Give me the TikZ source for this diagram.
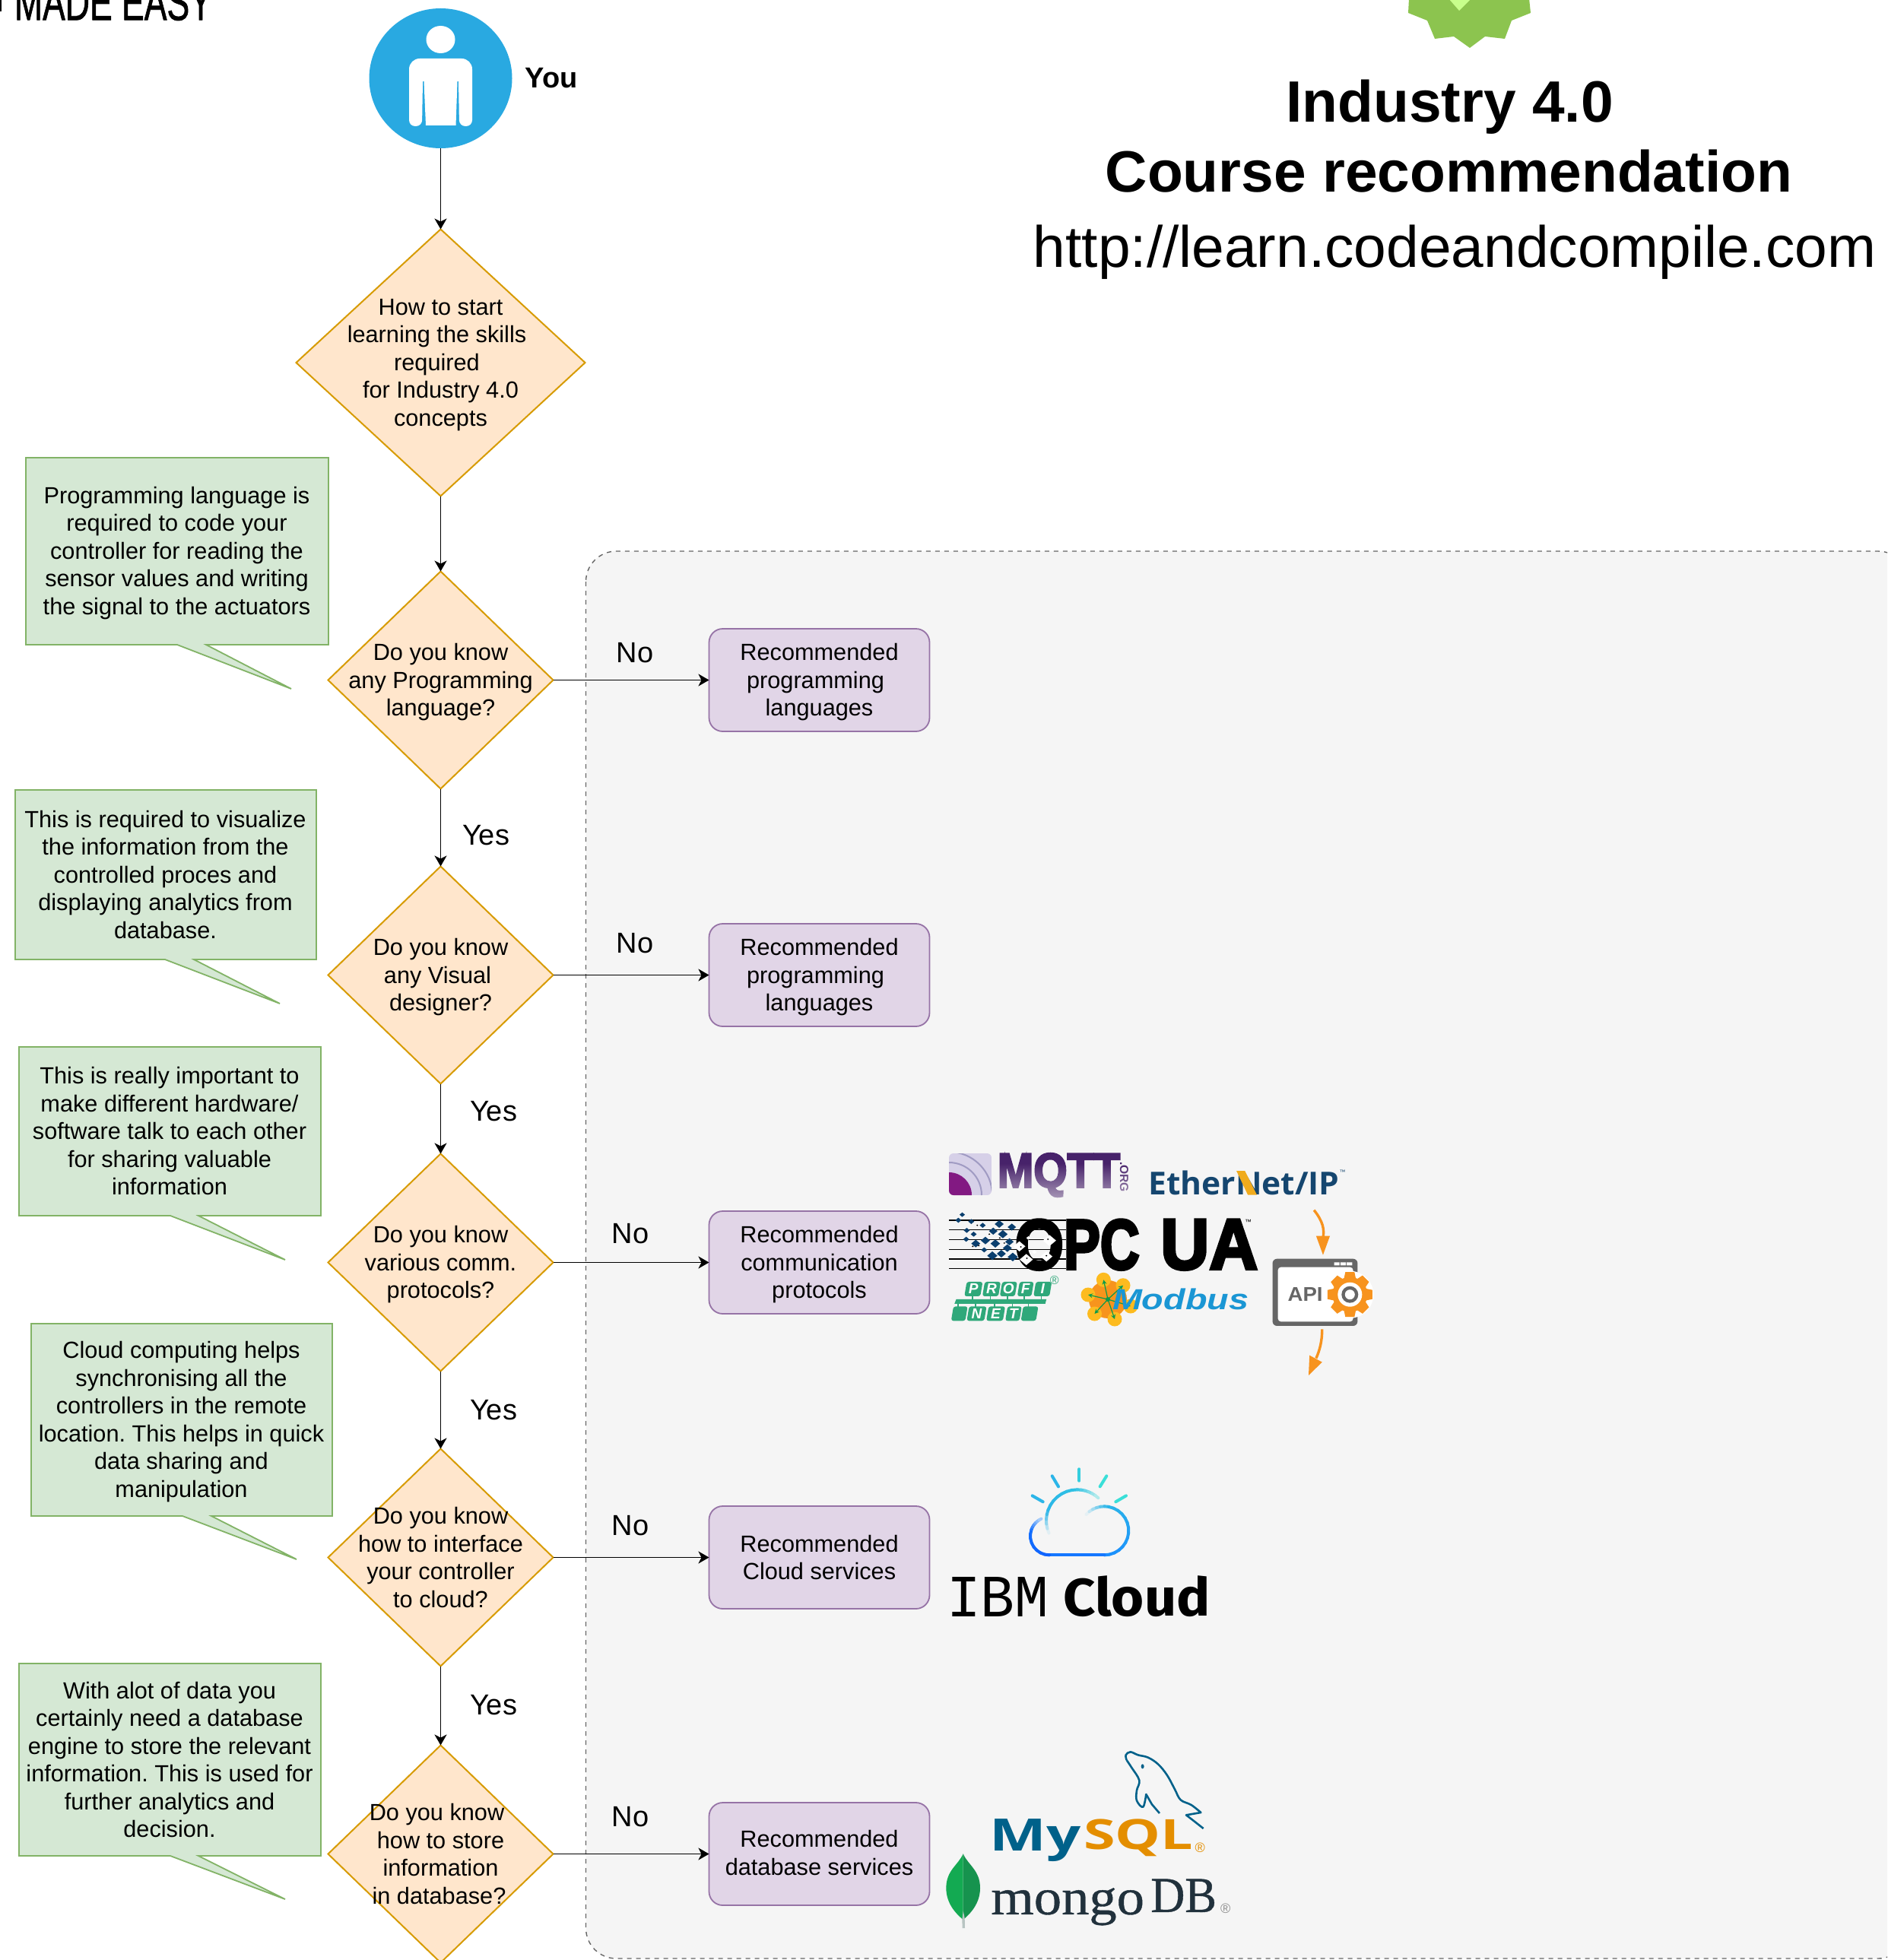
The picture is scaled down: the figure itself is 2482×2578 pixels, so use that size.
\documentclass[tikz,border=0pt]{standalone}
\usepackage{fontspec}
\usepackage{graphicx}
\setmainfont{Liberation Sans}
\newfontfamily\opensans{Open Sans}
\newfontfamily\firaf{Fira Sans}
\newfontfamily\lmonof{Liberation Mono}
\newfontfamily\lseriff{Liberation Serif}[UprightFeatures={FakeBold=.6}]
\newfontfamily\heavyf[UprightFont=* Bold,UprightFeatures={FakeBold=4}]{Liberation Sans}
\newfontfamily\semiheavy[UprightFont=* Bold,UprightFeatures={FakeBold=1.5}]{Liberation Sans}
\newfontfamily\handf[UprightFeatures={FakeBold=1.2}]{Liberation Sans}
\AtBeginDocument{\frenchspacing}
\usetikzlibrary{shapes.geometric,arrows.meta,fadings,calc}
\definecolor{dfill}{HTML}{FFE6CC}\definecolor{dline}{HTML}{D79B00}
\definecolor{gfill}{HTML}{D5E8D4}\definecolor{gline}{HTML}{82B366}
\definecolor{pfill}{HTML}{E1D5E7}\definecolor{pline}{HTML}{9673A6}
\definecolor{panelc}{HTML}{F5F5F5}\definecolor{panell}{HTML}{666666}
\definecolor{youc}{HTML}{29A9E1}
\definecolor{badge}{HTML}{8CC44F}\definecolor{badgel}{HTML}{C8FF8C}
\definecolor{mqttc}{HTML}{47226A}
\definecolor{ethc}{HTML}{15466F}\definecolor{ethy}{HTML}{F0AB1D}
\definecolor{opcb}{HTML}{0B3F6E}
\definecolor{pnc}{HTML}{2FA87A}
\definecolor{mbo}{HTML}{F7941D}\definecolor{mby}{HTML}{FDBB1F}\definecolor{mbg}{HTML}{0A9B4A}\definecolor{mbb}{HTML}{1A96D4}
\definecolor{apig}{HTML}{666666}\definecolor{apio}{HTML}{F7931E}
\definecolor{mysqlb}{HTML}{00618A}\definecolor{mysqlo}{HTML}{E48E00}
\definecolor{mongoc}{HTML}{21313C}
\definecolor{leafa}{HTML}{13AA52}\definecolor{leafb}{HTML}{16934E}
\definecolor{cla}{HTML}{0F62FE}\definecolor{clb}{HTML}{1A8CFF}\definecolor{clc}{HTML}{2BB5E8}\definecolor{cld}{HTML}{3ADFD8}
\tikzset{
 bigdia/.style={diamond,draw=dline,fill=dfill,line width=1pt,inner sep=0pt,outer sep=0pt,minimum width=190pt,minimum height=175.5pt},
 dia/.style={diamond,draw=dline,fill=dfill,line width=1pt,inner sep=0pt,outer sep=0pt,minimum width=148pt,minimum height=143pt},
 txt/.style={align=center,inner sep=0pt,font=\fontsize{15.35}{18.25}\selectfont},
 rec/.style={rectangle,rounded corners=9pt,draw=pline,fill=pfill,line width=.9pt,minimum width=145pt,minimum height=67.5pt,inner sep=0pt,outer sep=0pt},
 notebox/.style={draw=gline,fill=gfill,line width=.9pt},
 conn/.style={draw=black,line width=.9pt,-{Stealth[length=7pt,width=8pt,inset=2pt]}},
 yn/.style={inner sep=0pt,font=\fontsize{19}{21}\selectfont},
 logo/.style={inner sep=0pt,outer sep=0pt},
 titleb/.style={inner sep=0pt,anchor=base,font=\fontsize{38.35}{44}\selectfont\bfseries},
 cloudline/.style={line width=2pt,line cap=round},
}
\newcommand\rz[3]{\resizebox*{#1pt}{#2pt}{#3}}
\newcommand\tr[1]{\rule{#1pt}{0pt}}
\def\ntshift{0}
\newcommand\notecall[9]{%
 \draw[notebox] (#2,#3) -- (#4,#3) -- (#4,#5) -- (#7,#5) -- #8 -- (#6,#5) -- (#2,#5) -- cycle;
 \node[txt] (#1) at ({(#2+#4)/2-0.5},{(#3+#5)/2+\ntshift}) {#9};}
\newcommand\gradarc[8]{%
 \foreach \i in {1,...,#8}{%
  \pgfmathsetmacro\aa{#4+(#5-(#4))*(\i-1)/#8}%
  \pgfmathsetmacro\ab{#4+(#5-(#4))*\i/#8}%
  \pgfmathtruncatemacro\pc{100*(\i-0.5)/#8}%
  \draw[cloudline,color={#7!\pc!#6}] ({#1+#3*cos(\aa)},{#2+#3*sin(\aa)}) -- ({#1+#3*cos(\ab)},{#2+#3*sin(\ab)});}}
\begin{document}
\begin{tikzpicture}[x=0.5pt,y=-0.5pt]
\useasboundingbox (0,0) rectangle (2482,2578);
\clip (0,0) rectangle (2482,2578);
\fill[white] (0,0) rectangle (2482,2578);
% panel
\draw[draw=panell,fill=panelc,dashed,line width=.7pt,rounded corners=20pt] (770.5,725) rectangle (2510,2576);
% top left remnant
\node[logo] (made) at (149,3) {\rz{130}{24}{\handf MADE EASY}};
\fill[black] (0,0) rectangle (2,15);
% badge
\fill[badge] (1853,-2) -- (1852,17) -- (1877,27) -- (1887,51) -- (1912,48) -- (1933,63) -- (1953,48) -- (1979,51) -- (1988,27) -- (2013,17) -- (2011,-2) -- cycle;
\fill[badgel] (1905,-2) -- (1919,14) -- (1935,-2) -- cycle;
% title
\node[titleb] (t1) at (1906.5,161) {Industry 4.0};
\node[titleb] (t2) at (1905.5,253) {Course recommendation};
\node[inner sep=0pt,anchor=base,font=\fontsize{38.35}{44}\selectfont] (t3) at (1913,352) {http://learn.codeandcompile.com};
% person
\node[ellipse,fill=youc,inner sep=0pt,outer sep=0pt,minimum width=94pt,minimum height=92pt] (you) at (579.5,103) {};
\fill[white] (579.5,52) ellipse [x radius=19,y radius=18];
\fill[white,rounded corners=7pt] (538,125) -- (538,77) -- (621,77) -- (621,125) [rounded corners=4pt] -- (621,166) -- (604,166) [sharp corners] -- (603,107) -- (601.5,107) -- (599.5,165) -- (560,165) -- (557.5,107) -- (556,107) [rounded corners=4pt] -- (555,166) -- (538,166) -- cycle;
\node[inner sep=0pt,font=\fontsize{19}{21}\selectfont\bfseries] (youl) at (725,103) {You};
% diamonds
\node[bigdia] (d0) at (579.5,477) {};
\node[txt] (d0t) at ([yshift=-1.5pt]d0.center) {How to start\\learning the skills\tr{5}\\required\tr{5}\\for Industry 4.0\\concepts};
\node[dia] (d1) at (579.5,894.5) {};
\node[txt] (d1t) at ([yshift=-1.5pt]d1.center) {Do you know\\any Programming\\language?};
\node[dia] (d2) at (579.5,1282.5) {};
\node[txt] (d2t) at ([yshift=-1.5pt]d2.center) {Do you know\\any Visual\tr{4}\\designer?};
\node[dia] (d3) at (579.5,1660.5) {};
\node[txt] (d3t) at ([yshift=-1.5pt]d3.center) {Do you know\\various comm.\\protocols?};
\node[dia] (d4) at (579.5,2048.5) {};
\node[txt] (d4t) at (d4.center) {Do you know\\how to interface\\your controller\\to cloud?};
\node[dia] (d5) at (579.5,2438.5) {};
\node[txt] (d5t) at (d5.center) {Do you know\tr{5}\\how to store\\information\\in database?\tr{2}};
% boxes
\node[rec] (b1) at (1077.5,894.5) {};
\node[txt] (b1t) at ([yshift=-1.5pt]b1.center) {Recommended\\programming\tr{5}\\languages};
\node[rec] (b2) at (1077.5,1282.5) {};
\node[txt] (b2t) at ([yshift=-1.5pt]b2.center) {Recommended\\programming\tr{5}\\languages};
\node[rec] (b3) at (1077.5,1660.5) {};
\node[txt] (b3t) at ([yshift=-1.5pt]b3.center) {Recommended\\communication\\protocols};
\node[rec] (b4) at (1077.5,2048.5) {};
\node[txt] (b4t) at (b4.center) {Recommended\\Cloud services};
\node[rec] (b5) at (1077.5,2438.5) {};
\node[txt] (b5t) at ([yshift=.7pt]b5.center) {Recommended\\database services};
% connectors
\draw[conn] (you.south) -- (d0.north);
\draw[conn] (d0.south) -- (d1.north);
\draw[conn] (d1.south) -- (d2.north);
\draw[conn] (d2.south) -- (d3.north);
\draw[conn] (d3.south) -- (d4.north);
\draw[conn] (d4.south) -- (d5.north);
\draw[conn] (d1.east) -- (b1.west);
\draw[conn] (d2.east) -- (b2.west);
\draw[conn] (d3.east) -- (b3.west);
\draw[conn] (d4.east) -- (b4.west);
\draw[conn] (d5.east) -- (b5.west);
% labels
\node[yn] (no1) at (835,859) {No};
\node[yn] (no2) at (835,1241) {No};
\node[yn] (no3) at (829,1623) {No};
\node[yn] (no4) at (829,2007) {No};
\node[yn] (no5) at (829,2390) {No};
\node[yn] (y1) at (639,1099) {Yes};
\node[yn] (y2) at (649,1462) {Yes};
\node[yn] (y3) at (649,1855) {Yes};
\node[yn] (y4) at (649,2243) {Yes};
% notes
\def\ntshift{2.5}
\notecall{n1}{34}{602}{432}{848}{233}{271}{(383,906)}{Programming language is\\required to code your\\controller for reading the\\sensor values and writing\\the signal to the actuators}
\def\ntshift{0}
\notecall{n2}{20}{1039}{416}{1262}{217}{255}{(368,1320)}{This is required to visualize\\the information from the\\controlled proces and\\displaying analytics from\\database.}
\notecall{n3}{25}{1377}{422}{1599}{224}{261}{(375,1657)}{This is really important to\\make different hardware/\\software talk to each other\\for sharing valuable\\information}
\def\ntshift{2.5}
\notecall{n4}{41}{1741}{437}{1994}{240}{278}{(390,2051)}{Cloud computing helps\\synchronising all the\\controllers in the remote\\location. This helps in quick\\data sharing and\\manipulation}
\def\ntshift{0}
\notecall{n5}{25}{2188}{422}{2441}{224}{261}{(375,2498)}{With alot of data you\\certainly need a database\\engine to store the relevant\\information. This is used for\\further analytics and\\decision.}
% MQTT
\begin{scope}
\clip[rounded corners=3pt] (1248,1517) rectangle (1304,1572);
\fill[color={rgb,255:red,214;green,208;blue,232}] (1248,1517) rectangle (1304,1572);
\draw[color={rgb,255:red,160;green,155;blue,195},line width=1pt] (1248,1515) arc[start angle=-90,end angle=0,radius=57];
\draw[color={rgb,255:red,160;green,155;blue,195},line width=1pt] (1248,1529) arc[start angle=-90,end angle=0,radius=43];
\fill[color={rgb,255:red,130;green,25;blue,130}] (1248,1572) -- (1248,1542) arc[start angle=-90,end angle=0,radius=30] -- cycle;
\end{scope}
\node[logo,text=mqttc] (mqtt) at (1392.5,1545.5) {\rz{80.5}{28.5}{\heavyf MQTT}};
\node[logo,text=mqttc,rotate=-90] (mqorg) at (1478.5,1548) {\rz{20}{5.5}{\bfseries .ORG}};
\fill[panelc,fill opacity=.55,path fading=north] (1310,1530) rectangle (1486,1576);
% EtherNet/IP
\node[logo,text=ethc] (eth) at (1636,1556) {\rz{125.5}{16}{\opensans\bfseries EtherNet/IP}};
% logos in zoom coords
\begin{scope}[shift={(1220,1480)},xscale=0.3954,yscale=0.3333]
\fill[ethy] (1027,180) -- (1055,180) -- (1095,275) -- (1065,275) -- cycle;
\node[logo,text=ethc,font=\fontsize{4}{4}\selectfont] (ethtm) at (1380,186) {™};
% OPC lines
\foreach \yy in {375,413,452,490,528,566}{\draw[black,line width=.6pt] (72,\yy) -- (460,\yy);}
\node[logo] (opc) at (497.5,471.5) {\rz{82}{33}{\heavyf \scalebox{1.15}[1]{O}PC}};
\node[logo] (ua) at (936.5,471.5) {\rz{64}{33}{\heavyf UA}};
\node[logo,font=\fontsize{4.5}{5}\selectfont] (opctm) at (1066,381) {™};
\foreach \xx/\yy/\ss in {115/353/9,102/375/10,145/380/10,183/395/10,238/390/15,280/402/14,130/415/10,153/430/10,218/418/14,250/430/16,128/450/10,192/455/15,160/467/15,225/467/16,272/460/14,265/485/15,188/492/10,215/515/17,245/507/15,283/520/17}{
 \fill[opcb] ({\xx-\ss},\yy) -- (\xx,{\yy-\ss}) -- ({\xx+\ss},\yy) -- (\xx,{\yy+\ss}) -- cycle;}
\foreach \xx/\yy/\ss in {405/455/22,305/478/20,395/518/20,328/530/22,355/500/8,335/445/7}{
 \fill[white] ({\xx-\ss},\yy) -- (\xx,{\yy-\ss}) -- ({\xx+\ss},\yy) -- (\xx,{\yy+\ss}) -- cycle;}
\foreach \xx/\yy in {165/395,205/430,170/475,240/445,150/478,255/465,400/450,310/480,330/525,395/515}{\fill[black] (\xx,\yy) circle[radius=3];}
% PROFINET
\foreach \xa/\xb/\ll in {122/175/P,182/235/R,240/290/O,298/345/F,352/405/I}{
 \fill[pnc,rounded corners=1.5pt] ({\xa+8},618) -- ({\xb+8},618) -- (\xb,675) -- (\xa,675) -- cycle;
 \node[logo,text=white,font=\fontsize{9.5}{10}\selectfont\bfseries\itshape] (pn\ll) at ({(\xa+\xb)/2+4},646) {\ll};
 \draw[pnc,line width=.8pt] ({(\xa+\xb)/2},675) -- ({(\xa+\xb)/2},690);}
\fill[pnc] (95,687) -- (395,687) -- (391,705) -- (89,705) -- cycle;
\foreach \xa/\xb/\ll in {78/125/{},130/188/N,195/250/E,258/305/T,310/360/{}}{
 \fill[pnc,rounded corners=1.5pt] ({\xa+8},715) -- ({\xb+8},715) -- (\xb,772) -- (\xa,772) -- cycle;
 \node[logo,text=white,font=\fontsize{9.5}{10}\selectfont\bfseries\itshape] (pnb\xa) at ({(\xa+\xb)/2+4},743) {\ll};
 \draw[pnc,line width=.8pt] ({(\xa+\xb)/2},705) -- ({(\xa+\xb)/2},718);}
\node[logo,text=pnc,font=\fontsize{8}{9}\selectfont] (pnr) at (422,612) {®};
% API
\fill[apig,rounded corners=3pt] (1147,527) rectangle (1430,792);
\fill[white,rounded corners=2pt] (1165,560) rectangle (1415,775);
\fill[white] (1352,541) rectangle (1370,553) (1373,541) rectangle (1391,553) (1394,541) rectangle (1412,553);
\node[logo,text=apig] (api) at (1256,667) {\rz{23}{9}{\bfseries API}};
% orange arrows
\draw[apio,line width=1.7pt] (1285,335) .. controls (1315,380) and (1320,410) .. (1315,445);
\fill[apio] (1292,437) -- (1338,437) -- (1315,512) -- cycle;
\draw[apio,line width=1.7pt] (1312,805) .. controls (1312,850) and (1305,885) .. (1292,920);
\fill[apio] (1270,908) -- (1312,935) -- (1267,987) -- cycle;
\end{scope}
% gear
\begin{scope}[shift={(1775.3,1702.7)}]
\fill[white] (0,0) circle[radius=31];
\fill[apio] (0,0) circle[radius=23];
\foreach \a in {0,45,...,315}{\fill[apio,rotate=\a] (-6,-29.5) -- (6,-29.5) -- (8,-20) -- (-8,-20) -- cycle;}
\fill[white] (0,0) circle[radius=16];
\fill[apig] (0,0) circle[radius=11];
\fill[white] (0,0) circle[radius=6.5];
\end{scope}
% Modbus
\fill[mbo] (1457,1709) circle[radius=25];
\foreach \xx/\yy in {1451.3/1683.3,1477/1690.7,1487/1718,1466/1735,1439.5/1728,1431/1703}{
 \fill[mby] (\xx,\yy) circle[radius=9.5];
 \draw[mbg,line width=.6pt,-{Stealth[length=3pt,width=3pt]}] (1457,1709) -- (\xx,\yy);}
\fill[mbg] (1457,1709) circle[radius=3];
\node[logo,text=mbb] (modbus) at (1552.5,1709) {\rz{89.5}{14}{\semiheavy\itshape Modbus}};
% IBM cloud
\begin{scope}[shift={(1220,1900)},scale=0.3333]
\draw[cloudline,color=cld!60!clc] (598,97) -- (598,143);
\draw[cloudline,color=clc] (491,124) -- (516,166);
\draw[cloudline,color=cld] (706,124) -- (680,166);
\draw[cloudline,color=clc] (413,202) -- (455,226);
\draw[cloudline,color=cld] (783,202) -- (742,226);
\gradarc{590}{300}{122}{156}{200}{panelc}{clc}{5}
\gradarc{590}{300}{122}{200}{270}{clc}{clc!70!cld}{7}
\gradarc{590}{300}{122}{270}{313}{clc!70!cld}{panelc}{6}
\gradarc{697}{340}{96}{222}{280}{panelc}{clc}{6}
\gradarc{697}{340}{96}{280}{450}{clc}{clb}{14}
\draw[cloudline,color=cla!50!clb] (480,436) -- (697,436);
\gradarc{480}{361}{75}{90}{200}{cla}{cla!70!clb}{8}
\gradarc{480}{361}{75}{200}{245}{cla!70!clb}{panelc}{6}
\node[logo] (ibm) at (277,602) {\rz{67}{26}{\lmonof IBM}};
\node[logo] (cloud) at (825,599) {\rz{96.5}{27}{\firaf\bfseries Cloud}};
\end{scope}
% MySQL / mongoDB
\begin{scope}[shift={(1220,2280)},scale=0.3333]
\draw[mysqlb,line width=1.3pt,line join=round] plot[smooth,tension=.6] coordinates {(785,105) (782,85) (800,73) (830,85) (870,95) (910,122) (945,165) (975,220) (998,262) (1040,282) (1078,312)} -- (1020,322) -- (1050,345) -- (1088,375);
\draw[mysqlb,line width=1.3pt,line join=round] plot[smooth,tension=.6] coordinates {(785,105) (805,135) (835,185) (825,225) (825,265) (850,290) (862,240)} -- (885,280) -- (915,315);
\fill[mysqlb] (848,130) ellipse[x radius=6,y radius=9];
\node[logo,text=mysqlb] (my) at (425,421) {\rz{60}{28}{\opensans\bfseries My}};
\node[logo,text=mysqlo] (sql) at (832,413) {\rz{72}{24.5}{\opensans\bfseries SQL}};
\node[logo,text=mysqlo,font=\fontsize{9}{10}\selectfont] (myr) at (1075,450) {®};
\fill[leafa] (140,475) .. controls (120,520) and (73,540) .. (73,610) .. controls (73,670) and (110,710) .. (140,735) -- cycle;
\fill[leafb] (140,475) .. controls (160,520) and (207,540) .. (207,610) .. controls (207,670) and (170,710) .. (140,735) -- cycle;
\fill[color={rgb,255:red,184;green,196;blue,194}] (136,735) -- (140,700) -- (146,728) -- (147,768) -- (137,768) -- cycle;
\node[logo,text=mongoc] (mongo) at (552.5,683.5) {\rz{100.8}{24.5}{\lseriff mongo}};
\node[logo,text=mongoc] (db) at (1010,640) {\rz{43.3}{21.7}{\lseriff DB}};
\node[logo,text=black!45,font=\fontsize{9}{10}\selectfont] (mgr) at (1175,690) {®};
\end{scope}
\end{tikzpicture}
\end{document}
